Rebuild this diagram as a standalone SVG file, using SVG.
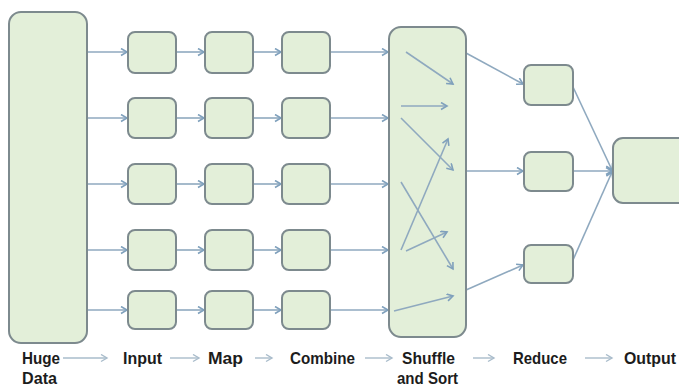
<svg xmlns="http://www.w3.org/2000/svg" width="679" height="389" viewBox="0 0 679 389">
<style>
.box{fill:#e3efd9;stroke:#7d8a8e;stroke-width:2}
.con{stroke:#8fa9bf;stroke-width:1.6;fill:none;marker-end:url(#arr)}
.leg{stroke:#a9bccb;stroke-width:1.4;fill:none;marker-end:url(#arr2)}
.lbl{font-family:"Liberation Sans",Arial,sans-serif;font-weight:bold;font-size:17px;fill:#1c1c1c}
</style>
<defs>
<marker id="arr" markerWidth="10" markerHeight="10" refX="7" refY="4" orient="auto" markerUnits="userSpaceOnUse">
<path d="M1,0.5 L7,4 L1,7.5" fill="none" stroke="#7fa0bc" stroke-width="1.6"/>
</marker>
<marker id="arr2" markerWidth="10" markerHeight="10" refX="7" refY="4" orient="auto" markerUnits="userSpaceOnUse">
<path d="M1,0.5 L7,4 L1,7.5" fill="none" stroke="#a9bccb" stroke-width="1.4"/>
</marker>
</defs>
<rect width="679" height="389" fill="#ffffff"/>

<g id="connectors">
<line class="con" x1="88" y1="52" x2="127" y2="52"/>
<line class="con" x1="88" y1="118" x2="127" y2="118"/>
<line class="con" x1="88" y1="184" x2="127" y2="184"/>
<line class="con" x1="88" y1="250" x2="127" y2="250"/>
<line class="con" x1="88" y1="310" x2="127" y2="310"/>
<line class="con" x1="176" y1="52" x2="204" y2="52"/>
<line class="con" x1="176" y1="118" x2="204" y2="118"/>
<line class="con" x1="176" y1="184" x2="204" y2="184"/>
<line class="con" x1="176" y1="250" x2="204" y2="250"/>
<line class="con" x1="176" y1="310" x2="204" y2="310"/>
<line class="con" x1="253" y1="52" x2="281" y2="52"/>
<line class="con" x1="253" y1="118" x2="281" y2="118"/>
<line class="con" x1="253" y1="184" x2="281" y2="184"/>
<line class="con" x1="253" y1="250" x2="281" y2="250"/>
<line class="con" x1="253" y1="310" x2="281" y2="310"/>
<line class="con" x1="330" y1="52" x2="388" y2="52"/>
<line class="con" x1="330" y1="118" x2="388" y2="118"/>
<line class="con" x1="330" y1="184" x2="388" y2="184"/>
<line class="con" x1="330" y1="250" x2="388" y2="250"/>
<line class="con" x1="330" y1="310" x2="388" y2="310"/>
<line class="con" x1="466" y1="53" x2="523" y2="84"/>
<line class="con" x1="466" y1="171" x2="523" y2="171"/>
<line class="con" x1="466" y1="290" x2="523" y2="265"/>
<line class="con" x1="573" y1="87" x2="612" y2="170"/>
<line class="con" x1="573" y1="171" x2="612" y2="171"/>
<line class="con" x1="573" y1="260" x2="612" y2="172"/>
</g>

<g id="huge-data"><rect class="box" x="9" y="12" width="78" height="331" rx="12"/></g>

<g id="input-1"><rect class="box" x="128" y="32" width="48" height="41" rx="7"/></g>
<g id="input-2"><rect class="box" x="128" y="98" width="48" height="40" rx="7"/></g>
<g id="input-3"><rect class="box" x="128" y="164" width="48" height="40" rx="7"/></g>
<g id="input-4"><rect class="box" x="128" y="230" width="48" height="40" rx="7"/></g>
<g id="input-5"><rect class="box" x="128" y="291" width="48" height="38" rx="7"/></g>

<g id="map-1"><rect class="box" x="205" y="32" width="48" height="41" rx="7"/></g>
<g id="map-2"><rect class="box" x="205" y="98" width="48" height="40" rx="7"/></g>
<g id="map-3"><rect class="box" x="205" y="164" width="48" height="40" rx="7"/></g>
<g id="map-4"><rect class="box" x="205" y="230" width="48" height="40" rx="7"/></g>
<g id="map-5"><rect class="box" x="205" y="291" width="48" height="38" rx="7"/></g>

<g id="combine-1"><rect class="box" x="282" y="32" width="48" height="41" rx="7"/></g>
<g id="combine-2"><rect class="box" x="282" y="98" width="48" height="40" rx="7"/></g>
<g id="combine-3"><rect class="box" x="282" y="164" width="48" height="40" rx="7"/></g>
<g id="combine-4"><rect class="box" x="282" y="230" width="48" height="40" rx="7"/></g>
<g id="combine-5"><rect class="box" x="282" y="291" width="48" height="38" rx="7"/></g>

<g id="shuffle-sort">
<rect class="box" x="389" y="27" width="77" height="310" rx="12"/>
<line class="con" x1="406" y1="52" x2="453" y2="84"/>
<line class="con" x1="401" y1="106" x2="447" y2="106"/>
<line class="con" x1="401" y1="118" x2="453" y2="170"/>
<line class="con" x1="401" y1="250" x2="448" y2="139"/>
<line class="con" x1="401" y1="182" x2="453" y2="269"/>
<line class="con" x1="406" y1="251" x2="447" y2="232"/>
<line class="con" x1="394" y1="311" x2="453" y2="296"/>
</g>

<g id="reduce-1"><rect class="box" x="524" y="65" width="49" height="40" rx="7"/></g>
<g id="reduce-2"><rect class="box" x="524" y="152" width="49" height="39" rx="7"/></g>
<g id="reduce-3"><rect class="box" x="524" y="245" width="49" height="38" rx="7"/></g>

<g id="output"><rect class="box" x="613" y="138" width="80" height="65" rx="10"/></g>

<g id="legend">
<text class="lbl" x="22" y="364" textLength="38" lengthAdjust="spacingAndGlyphs">Huge</text>
<text class="lbl" x="22" y="384" textLength="35" lengthAdjust="spacingAndGlyphs">Data</text>
<text class="lbl" x="123" y="364" textLength="39" lengthAdjust="spacingAndGlyphs">Input</text>
<text class="lbl" x="208" y="364" textLength="35" lengthAdjust="spacingAndGlyphs">Map</text>
<text class="lbl" x="290" y="364" textLength="65" lengthAdjust="spacingAndGlyphs">Combine</text>
<text class="lbl" x="402" y="364" textLength="53" lengthAdjust="spacingAndGlyphs">Shuffle</text>
<text class="lbl" x="397" y="384" textLength="61" lengthAdjust="spacingAndGlyphs">and Sort</text>
<text class="lbl" x="513" y="364" textLength="54" lengthAdjust="spacingAndGlyphs">Reduce</text>
<text class="lbl" x="624" y="364" textLength="52" lengthAdjust="spacingAndGlyphs">Output</text>
<line class="leg" x1="63" y1="358" x2="107" y2="358"/>
<line class="leg" x1="170" y1="358" x2="199" y2="358"/>
<line class="leg" x1="255" y1="358" x2="272" y2="358"/>
<line class="leg" x1="365" y1="358" x2="392" y2="358"/>
<line class="leg" x1="473" y1="358" x2="494" y2="358"/>
<line class="leg" x1="585" y1="358" x2="612" y2="358"/>
</g>
</svg>
